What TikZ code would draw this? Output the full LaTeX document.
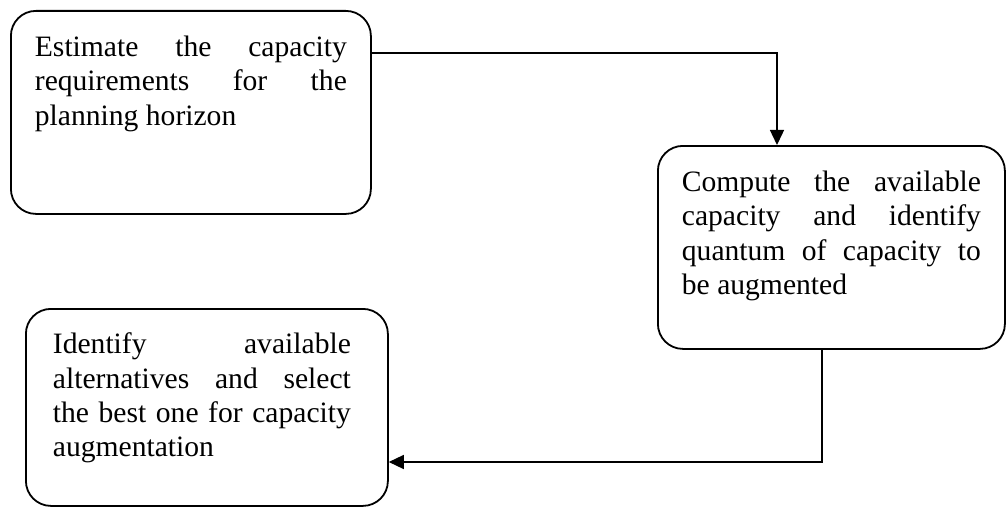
\documentclass[tikz,border=0pt]{standalone}
\usepackage{fontspec}
\setmainfont{Liberation Serif}
\usetikzlibrary{positioning,arrows.meta}

\begin{document}
\begin{tikzpicture}[x=0.5pt,y=-0.5pt,
   stagebox/.style={draw,line width=0.9pt,rounded corners=12.5pt,anchor=north west,
      font=\fontsize{14.8pt}{17.2pt}\selectfont},
   flow/.style={line width=0.7pt,-{Triangle[length=7.5pt,width=7pt]}}]

   \useasboundingbox (0,0) rectangle (1006,508);

   \node[stagebox,inner xsep=12pt,inner ysep=12.5pt] at (10,10) (estimate) {\parbox[c][76.5pt][t]{156pt}{\tolerance=10000 \hyphenpenalty=10000 Estimate the capacity\linebreak requirements for the\linebreak planning horizon}};
   \node[stagebox,inner xsep=12pt,inner ysep=12.5pt] at (657,145) (compute) {\parbox[c][76.5pt][t]{149.5pt}{\tolerance=10000 \hyphenpenalty=10000 Compute the available\linebreak capacity and identify\linebreak quantum of capacity to\linebreak be augmented}};
   \node[stagebox,inner xsep=13.5pt,inner ysep=12pt] at (25,308) (select) {\parbox[c][74.5pt][t]{154pt}{\tolerance=10000 \hyphenpenalty=10000 \rightskip=5pt Identify available\linebreak alternatives and select\linebreak the best one for capacity\linebreak augmentation}};

   \coordinate (turn1) at (777,53);
   \coordinate (turn2) at (822,462);

   \draw[flow] (estimate.east |- turn1) -- (turn1) -- (compute.north -| turn1);
   \draw[flow] (compute.south -| turn2) -- (turn2) -- (select.east |- turn2);
\end{tikzpicture}
\end{document}
